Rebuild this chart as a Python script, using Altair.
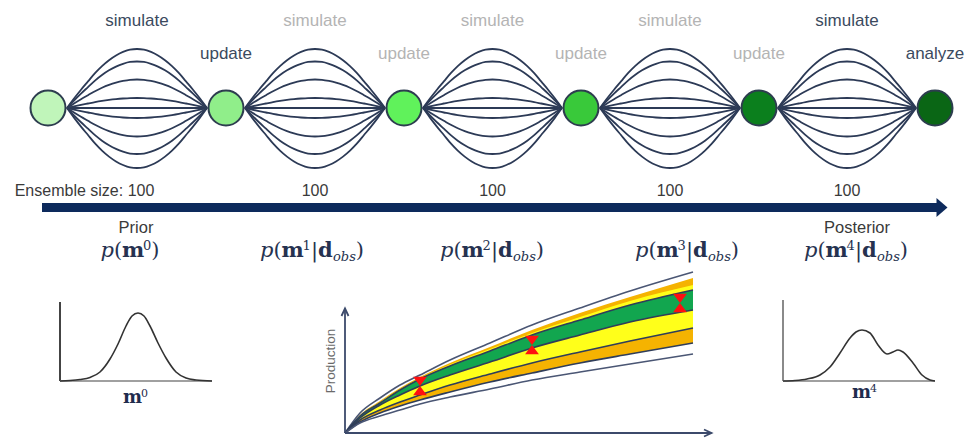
import altair as alt
import pandas as pd

# ---------------- data (diagram coordinates, y grows downward) ----------------
node_x = [48, 226, 404, 581, 759, 935]
node_y = 108
node_colors = ["#c0f5ba", "#90ee8a", "#60f25b", "#39c93a", "#0b7f1d", "#0a6615"]

lens_offsets = [-59, -46.5, -28.5, -10, 0, 10, 28.5, 46, 60]
lens_t = [0, .05, .1, .15, .2, .25, .3, .35, .4, .45, .5, .55, .6, .65, .7, .75, .8, .85, .9, .95, 1]
lens_s = [0, .16, .31, .45, .59, .71, .81, .89, .95, .99, 1, .99, .95, .89, .81, .71, .59, .45, .31, .16, 0]

DARK = "#3b4a5e"
GRAY = "#b4b4b4"
simulate_colors = [DARK, GRAY, GRAY, GRAY, DARK]
step_labels = ["update", "update", "update", "update", "analyze"]
step_colors = [DARK, GRAY, GRAY, GRAY, DARK]

ensemble_sizes = ["100", "100", "100", "100"]
stage_iter = ["0", "1", "2", "3", "4"]
stage_x = [130, 312, 492, 687, 856]

prior_x = [60, 70, 80, 90, 100, 110, 118, 126, 132, 138, 144, 150, 158, 166, 176, 186, 196, 212]
prior_y = [381, 380.5, 379.5, 377.5, 372, 359, 344, 326, 316, 313, 316, 326, 343, 358, 372, 378, 380, 381]

post_x = [783, 795, 807, 820, 830, 840, 850, 856, 862, 870, 878, 887, 893, 898, 903, 913, 922, 930, 935]
post_y = [381, 380.5, 379, 375, 367, 353, 338, 332, 330, 333, 345, 354, 352, 350, 352, 363, 375, 380, 381]

prod_x = [345, 360, 380, 400, 420, 450, 490, 532, 580, 630, 693]
outer_top = [433, 413, 398, 385, 375, 360, 343, 325, 308, 291, 272]
orange_top = [433, 415, 401, 388, 377, 363, 347, 330, 313, 297, 278]
yellow_top = [433, 415.5, 402, 389, 378, 364.5, 349, 333, 317, 301, 285]
green_top = [433, 416, 403, 390, 379, 366, 351, 335, 320, 305, 290]
green_bottom = [433, 418, 405, 395, 386, 375, 362, 348, 335, 322, 310]
yellow_bottom = [433, 420, 410, 402, 395, 385, 374, 363, 352, 341, 328]
orange_bottom = [433, 422, 413, 406, 400, 392, 382, 373, 363, 354, 343]
outer_bottom = [433, 423, 416, 410, 404, 397, 389, 380, 372, 364, 354]

marker_x = [420, 532, 680]
marker_y = [386, 345, 303]

# ---------------- scales ----------------
XS = alt.Scale(domain=[0, 966], nice=False, zero=False)
YS = alt.Scale(domain=[0, 441], nice=False, zero=False, reverse=True)


def X(f="x"):
    return alt.X(f"{f}:Q", scale=XS, axis=None)


def Y(f="y"):
    return alt.Y(f"{f}:Q", scale=YS, axis=None)


layers = []

# ---------------- lens bundles ----------------
rows = []
for i in range(5):
    x0 = node_x[i] + 19
    x1 = node_x[i + 1] - 19
    for j, off in enumerate(lens_offsets):
        for k, (t, s) in enumerate(zip(lens_t, lens_s)):
            rows.append({"x": x0 + (x1 - x0) * t, "y": node_y + off * s, "id": f"{i}-{j}", "o": k})
layers.append(
    alt.Chart(pd.DataFrame(rows)).mark_line(color="#2c3a56", strokeWidth=1.8, interpolate="monotone")
    .encode(x=X(), y=Y(), detail="id:N", order="o:Q")
)

# ---------------- nodes ----------------
nodes = pd.DataFrame({"x": node_x, "y": [node_y] * 6, "c": node_colors})
layers.append(
    alt.Chart(nodes).mark_point(shape="circle", filled=True, size=1225, stroke="#2d3d4f",
                                strokeWidth=2, opacity=1)
    .encode(x=X(), y=Y(), color=alt.Color("c:N", scale=None))
)

# ---------------- sans labels ----------------
mids = [(node_x[i] + node_x[i + 1]) / 2 for i in range(5)]
lab = []
for m, c in zip(mids, simulate_colors):
    lab.append({"x": m, "y": 26, "t": "simulate", "c": c, "fs": 17})
for nx, t, c in zip(node_x[1:], step_labels, step_colors):
    lab.append({"x": nx, "y": 59, "t": t, "c": c, "fs": 17})
lab.append({"x": 84.5, "y": 196, "t": "Ensemble size: 100", "c": "#3a3a3a", "fs": 16})
for m, t in zip(mids[1:], ensemble_sizes):
    lab.append({"x": m, "y": 196, "t": t, "c": "#3a3a3a", "fs": 16})
lab.append({"x": 136, "y": 233, "t": "Prior", "c": "#3a3a3a", "fs": 16.5})
lab.append({"x": 857, "y": 233, "t": "Posterior", "c": "#3a3a3a", "fs": 16.5})
layers.append(
    alt.Chart(pd.DataFrame(lab)).mark_text(font="Liberation Sans", align="center", baseline="alphabetic")
    .encode(x=X(), y=Y(), text="t:N", size=alt.Size("fs:Q", scale=None), color=alt.Color("c:N", scale=None))
)

# ---------------- main arrow ----------------
layers.append(
    alt.Chart(pd.DataFrame({"x": [42], "x2": [937], "y": [207.5]})).mark_rule(color="#0d2a5c", strokeWidth=9, strokeCap="butt")
    .encode(x=X(), x2=alt.X2("x2:Q"), y=Y())
)
layers.append(
    alt.Chart(pd.DataFrame({"x": [942], "y": [207.5]})).mark_point(shape="M-0.58,-1L0.58,0L-0.58,1Z", filled=True,
                                                                size=361, color="#0d2a5c", opacity=1)
    .encode(x=X(), y=Y())
)

# ---------------- math formulas ----------------
EM = {"p": .640, "(": .390, ")": .390, "|": .337, "m": 1.0, "d": .716, "obs": 1.755}
for dgt in "0123456789":
    EM[dgt] = .636


def place(segs, x_left, base):
    out = []
    x = x_left
    for txt, sty, fs, dy in segs:
        out.append({"x": x, "y": base + dy, "t": txt, "sty": sty, "fs": fs})
        x += EM[txt] * fs
    return out, x - x_left


math_rows = []
for k, cx in zip(stage_iter, stage_x):
    segs = [("p", "it", 21, 0), ("(", "rg", 21, 0), ("m", "bd", 21, 0), (k, "rg", 13, -7)]
    if k != "0":
        segs += [("|", "rg", 21, 0), ("d", "bd", 21, 0), ("obs", "it", 13, 4)]
    segs += [(")", "rg", 21, 0)]
    _, w = place(segs, 0, 0)
    r, _ = place(segs, cx - w / 2, 257)
    for q in r:
        q["c"] = "#263250"
    math_rows += r
for k, xl, base in [("0", 123, 403), ("4", 852, 398)]:
    r, _ = place([("m", "bd", 18, 0), (k, "rg", 11, -6)], xl, base)
    for q in r:
        q["c"] = "#1f2c4d"
    math_rows += r
mdf = pd.DataFrame(math_rows)
for sty, kw in [("it", {"fontStyle": "italic"}), ("bd", {"fontWeight": "bold"}), ("rg", {})]:
    layers.append(
        alt.Chart(mdf[mdf.sty == sty]).mark_text(font="DejaVu Serif", align="left", baseline="alphabetic", **kw)
        .encode(x=X(), y=Y(), text="t:N", size=alt.Size("fs:Q", scale=None), color=alt.Color("c:N", scale=None))
    )

# ---------------- small density plots ----------------
axes = pd.DataFrame({
    "x": [60, 60, 783, 783], "x2": [60, 212, 783, 935],
    "y": [302, 381, 300, 381], "y2": [381, 381, 381, 381],
    "c": ["#444444", "#a0a0a0", "#8a8a8a", "#a0a0a0"],
})
layers.append(
    alt.Chart(axes).mark_rule(strokeWidth=2)
    .encode(x=X(), x2=alt.X2("x2:Q"), y=Y(), y2=alt.Y2("y2:Q"), color=alt.Color("c:N", scale=None))
)
dens = pd.concat([
    pd.DataFrame({"x": prior_x, "y": prior_y, "id": "prior", "o": range(len(prior_x))}),
    pd.DataFrame({"x": post_x, "y": post_y, "id": "post", "o": range(len(post_x))}),
])
layers.append(
    alt.Chart(dens).mark_line(color="#333333", strokeWidth=1.6, interpolate="monotone")
    .encode(x=X(), y=Y(), detail="id:N", order="o:Q")
)

# ---------------- production plot ----------------
pdf = pd.DataFrame({"x": prod_x, "ot": orange_top, "ob": orange_bottom, "yt": yellow_top,
                    "yb": yellow_bottom, "gt": green_top, "gb": green_bottom})
for top, bot, col in [("ot", "ob", "#f5b301"), ("yt", "yb", "#ffff1a"), ("gt", "gb", "#12a64f")]:
    layers.append(
        alt.Chart(pdf).mark_area(color=col, opacity=1, interpolate="monotone")
        .encode(x=X(), y=Y(top), y2=alt.Y2(f"{bot}:Q"))
    )
curves = []
for name, ys, col in [("T", outer_top, "#4a5674"), ("GT", green_top, "#2f3d5a"), ("GB", green_bottom, "#2f3d5a"),
                      ("YB", yellow_bottom, "#2f3d5a"), ("OB", orange_bottom, "#2f3d5a"), ("B", outer_bottom, "#4a5674")]:
    for o, (xx, yy) in enumerate(zip(prod_x, ys)):
        curves.append({"x": xx, "y": yy, "id": name, "o": o, "c": col})
layers.append(
    alt.Chart(pd.DataFrame(curves)).mark_line(strokeWidth=1.6, interpolate="monotone")
    .encode(x=X(), y=Y(), detail="id:N", order="o:Q", color=alt.Color("c:N", scale=None))
)
arr = pd.DataFrame({
    "x": [345, 345, 341.5, 345, 348.5, 345, 711.5, 704, 711.5, 704],
    "y": [433, 308.5, 316, 308.5, 316, 433, 433, 429.5, 433, 436.5],
    "id": ["v", "v", "vh", "vh", "vh", "h", "h", "hh", "hh", "hh"],
    "o": [0, 1, 0, 1, 2, 0, 1, 0, 1, 2],
})
arr = pd.DataFrame({
    "x": [345, 345, 341.5, 345, 348.5, 345, 711.5, 704, 711.5, 704],
    "y": [433, 308.5, 316, 308.5, 316, 433, 433, 429.5, 433, 436.5],
    "id": ["v", "v", "vh", "vh", "vh", "h", "h", "hh", "hh", "hh"],
    "o": [0, 1, 0, 1, 2, 0, 1, 0, 2, 2],
})
arr["o"] = [0, 1, 0, 1, 2, 0, 1, 0, 1, 2]
layers.append(
    alt.Chart(arr).mark_line(color="#3c4a6b", strokeWidth=1.8)
    .encode(x=X(), y=Y(), detail="id:N", order="o:Q")
)
layers.append(
    alt.Chart(pd.DataFrame({"x": [331], "y": [361], "t": ["Production"]}))
    .mark_text(font="Liberation Sans", fontSize=13.5, angle=270, align="center", baseline="middle", color="#6a6a6a")
    .encode(x=X(), y=Y(), text="t:N")
)
layers.append(
    alt.Chart(pd.DataFrame({"x": marker_x, "y": marker_y}))
    .mark_point(shape="M-0.75,-1L0.75,-1L-0.75,1L0.75,1Z", filled=True, size=340, color="#ff1010",
                opacity=1, strokeWidth=0)
    .encode(x=X(), y=Y())
)

chart = alt.layer(*layers).properties(
    width=966, height=441, padding=0, autosize=alt.AutoSizeParams(type="none"), background="white"
).configure_view(strokeWidth=0)

chart.save("out.html", embed_options={"renderer": "svg", "actions": False})
